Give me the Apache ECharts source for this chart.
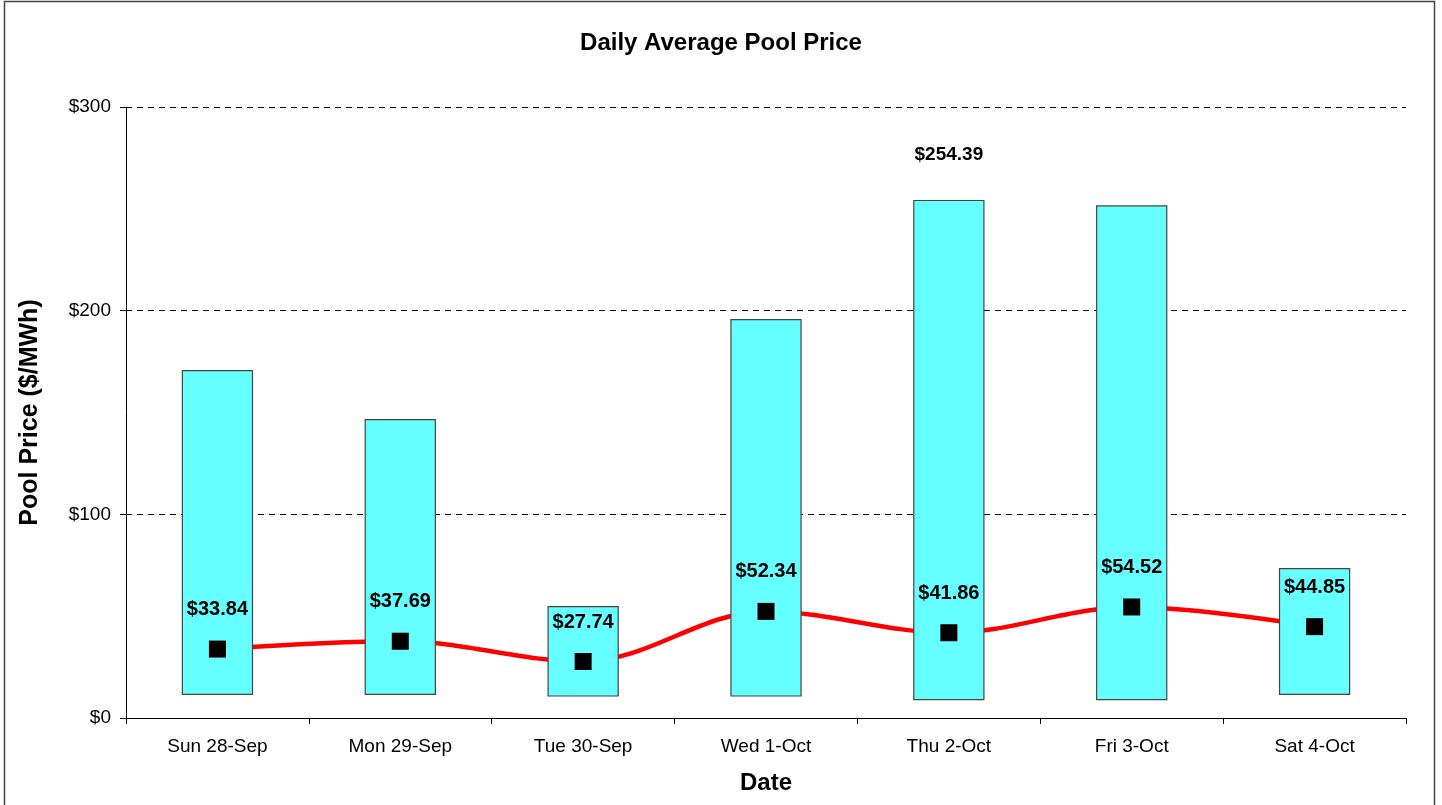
<!DOCTYPE html>
<html><head><meta charset="utf-8">
<script src="https://cdn.jsdelivr.net/npm/echarts@6/dist/echarts.min.js"></script>
<style>html,body{margin:0;padding:0;background:#fff}#c{width:1442px;height:805px}</style>
</head><body><div id="c"></div>
<script>
const categories = ['Sun 28-Sep','Mon 29-Sep','Tue 30-Sep','Wed 1-Oct','Thu 2-Oct','Fri 3-Oct','Sat 4-Oct'];
const minPrice = [11.3, 11.3, 10.5, 10.5, 8.7, 8.7, 11.3];
const maxPrice = [170.9, 146.8, 55.0, 195.9, 254.39, 251.7, 73.6];
const avgPrice = [33.84, 37.69, 27.74, 52.34, 41.86, 54.52, 44.85];
const yTicks = [0, 100, 200, 300];
const labeledMaxIndex = 4;

const FONT = 'Liberation Sans, Arial, sans-serif';
const chart = echarts.init(document.getElementById('c'), null, {renderer:'canvas'});
const rangeData = maxPrice.map((v,i) => {
  const item = {value: +(v - minPrice[i]).toFixed(2)};
  if (i === labeledMaxIndex) {
    item.label = {show:true, position:'top', distance:36, formatter: '$' + v.toFixed(2),
      fontFamily:FONT, fontWeight:'bold', fontSize:19, color:'#000'};
  }
  return item;
});
chart.setOption({
  animation:false,
  backgroundColor:'#fff',
  title:{text:'Daily Average Pool Price', left:'center', top:26,
    textStyle:{fontFamily:FONT, fontWeight:'bold', fontSize:24, color:'#000'}},
  graphic:[{type:'rect', shape:{x:4.5, y:1.5, width:1430, height:810}, style:{fill:'none', stroke:'#444', lineWidth:1.5}, z:100}],
  grid:{left:126, right:36, top:107, bottom:87},
  xAxis:{type:'category', data:categories, boundaryGap:true,
    name:'Date', nameLocation:'middle', nameGap:53,
    nameTextStyle:{fontFamily:FONT, fontWeight:'bold', fontSize:24, color:'#000'},
    axisLine:{lineStyle:{color:'#000', width:1}},
    axisTick:{show:true, length:6, lineStyle:{color:'#000'}},
    axisLabel:{fontFamily:FONT, fontSize:19, color:'#000', margin:19}},
  yAxis:{type:'value', min:yTicks[0], max:yTicks[yTicks.length-1], interval:100,
    name:'Pool Price ($/MWh)', nameLocation:'middle', nameGap:83,
    nameTextStyle:{fontFamily:FONT, fontWeight:'bold', fontSize:25, color:'#000'},
    axisLine:{show:true, lineStyle:{color:'#000', width:1}},
    axisTick:{show:true, length:6, lineStyle:{color:'#000'}},
    axisLabel:{fontFamily:FONT, fontSize:19, color:'#000', margin:15, formatter: v => '$' + v},
    splitLine:{show:true, lineStyle:{color:'#000', type:[6,5], width:1}}},
  series:[
    {type:'line', data:avgPrice, smooth:0.35, symbol:'none', z:1,
      lineStyle:{color:'#FF0000', width:4.5}},
    {type:'bar', stack:'r', data:minPrice, barWidth:'39%', z:2,
      itemStyle:{color:'transparent', borderWidth:0}, emphasis:{disabled:true}},
    {type:'bar', stack:'r', data:rangeData, barWidth:'39%', z:2,
      itemStyle:{color:'#66FFFF', borderColor:'#444', borderWidth:1.2}},
    {type:'scatter', data:avgPrice, symbol:'rect', symbolSize:17, z:5,
      itemStyle:{color:'#000', opacity:1},
      label:{show:true, position:'top', distance:21, formatter: p => '$' + p.value.toFixed(2),
        fontFamily:FONT, fontWeight:'bold', fontSize:20, color:'#000', opacity:1}}
  ]
});
</script></body></html>
